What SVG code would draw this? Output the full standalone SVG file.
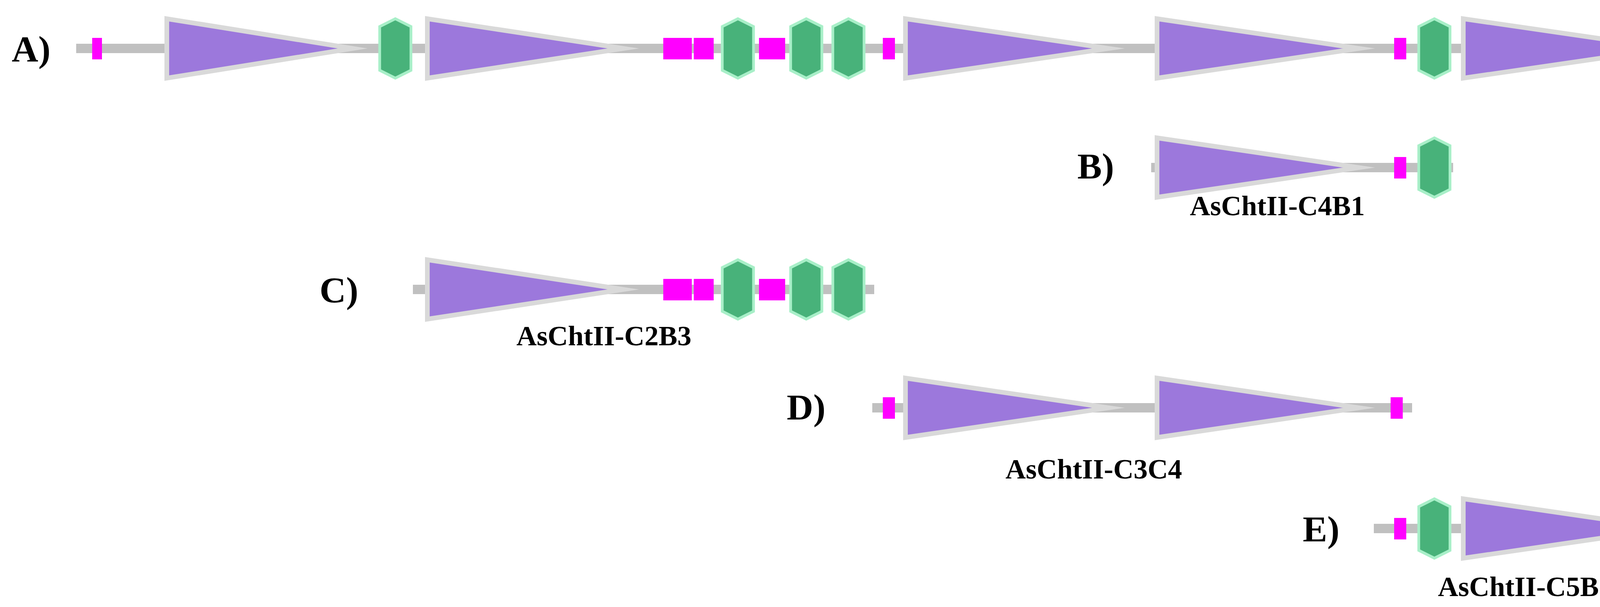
<svg xmlns="http://www.w3.org/2000/svg" width="4360" height="1554" viewBox="0 0 4360 1554">
<style>
.bar{fill:#c0c0c0}
.tri{fill:#9c78dc;stroke:#d9d9d9;stroke-width:12;stroke-miterlimit:10}
.hex{fill:#48b27a;stroke:#a8efc8;stroke-width:7}
.mg{fill:#ff00ff}
.lab{font-family:"Liberation Serif",serif;font-weight:bold;font-size:94px;fill:#000}
.name{font-family:"Liberation Serif",serif;font-weight:bold;font-size:72px;fill:#000;text-anchor:middle}
</style>
<rect width="4360" height="1554" fill="#fff"/>
<g id="rowA">
<rect class="bar" x="195" y="112" width="4135" height="24"/>
<rect class="mg" x="236" y="97" width="25" height="55"/>
<polygon class="tri" points="427,48 427,200 903,124"/>
<polygon class="hex" points="1012,48 1052,68 1052,180 1012,200 972,180 972,68"/>
<polygon class="tri" points="1094,48 1094,200 1596,124"/>
<rect class="mg" x="1698" y="97" width="73" height="55"/>
<rect class="mg" x="1776" y="97" width="51" height="55"/>
<polygon class="hex" points="1889,48 1929,68 1929,180 1889,200 1849,180 1849,68"/>
<rect class="mg" x="1943" y="97" width="67" height="55"/>
<polygon class="hex" points="2064,48 2104,68 2104,180 2064,200 2024,180 2024,68"/>
<polygon class="hex" points="2172,48 2212,68 2212,180 2172,200 2132,180 2132,68"/>
<rect class="mg" x="2260" y="97" width="31" height="55"/>
<polygon class="tri" points="2318,48 2318,200 2838,124"/>
<polygon class="tri" points="2962,48 2962,200 3479,124"/>
<rect class="mg" x="3569" y="97" width="31" height="55"/>
<polygon class="hex" points="3672,48 3712,68 3712,180 3672,200 3632,180 3632,68"/>
<polygon class="tri" points="3746,48 3746,200 4270,124"/>
<text class="lab" x="30" y="157">A)</text>
</g>
<g id="rowB" transform="translate(0,305)">
<rect class="bar" x="2947" y="112" width="773" height="24"/>
<polygon class="tri" points="2962,48 2962,200 3479,124"/>
<rect class="mg" x="3569" y="97" width="31" height="55"/>
<polygon class="hex" points="3672,48 3712,68 3712,180 3672,200 3632,180 3632,68"/>
<text class="lab" x="2758" y="152">B)</text>
<text class="name" x="3270" y="246">AsChtII-C4B1</text>
</g>
<g id="rowC" transform="translate(0,617)">
<rect class="bar" x="1057" y="112" width="1181" height="24"/>
<polygon class="tri" points="1094,48 1094,200 1596,124"/>
<rect class="mg" x="1698" y="97" width="73" height="55"/>
<rect class="mg" x="1776" y="97" width="51" height="55"/>
<polygon class="hex" points="1889,48 1929,68 1929,180 1889,200 1849,180 1849,68"/>
<rect class="mg" x="1943" y="97" width="67" height="55"/>
<polygon class="hex" points="2064,48 2104,68 2104,180 2064,200 2024,180 2024,68"/>
<polygon class="hex" points="2172,48 2212,68 2212,180 2172,200 2132,180 2132,68"/>
<text class="lab" x="818" y="157">C)</text>
<text class="name" x="1546" y="267">AsChtII-C2B3</text>
</g>
<g id="rowD" transform="translate(0,920)">
<rect class="bar" x="2233" y="112" width="1382" height="24"/>
<rect class="mg" x="2260" y="97" width="31" height="55"/>
<polygon class="tri" points="2318,48 2318,200 2838,124"/>
<polygon class="tri" points="2962,48 2962,200 3479,124"/>
<rect class="mg" x="3560" y="97" width="31" height="55"/>
<text class="lab" x="2014" y="154">D)</text>
<text class="name" x="2800" y="305">AsChtII-C3C4</text>
</g>
<g id="rowE" transform="translate(0,1229)">
<rect class="bar" x="3517" y="112" width="813" height="24"/>
<rect class="mg" x="3569" y="97" width="31" height="55"/>
<polygon class="hex" points="3672,48 3712,68 3712,180 3672,200 3632,180 3632,68"/>
<polygon class="tri" points="3746,48 3746,200 4270,124"/>
<text class="lab" x="3335" y="157">E)</text>
<text class="name" x="3905" y="297">AsChtII-C5B1</text>
</g>
</svg>
